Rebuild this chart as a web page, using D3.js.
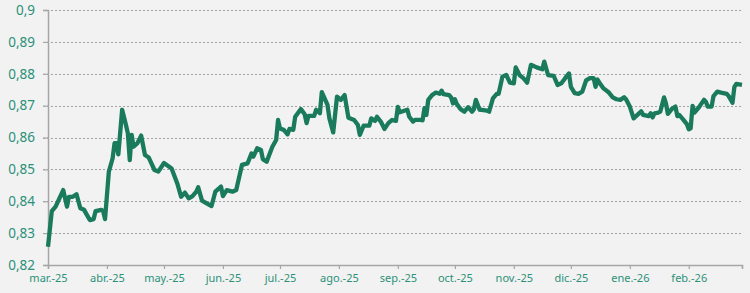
<!DOCTYPE html>
<html><head><meta charset="utf-8">
<script src="https://cdn.jsdelivr.net/npm/d3@7"></script>
<style>
html,body{margin:0;padding:0;background:#f2f2f2;}
svg{display:block;}
</style></head>
<body>
<svg id="chart" width="750" height="293"></svg>
<script>
const dates = [
"2025-03-01","2025-03-03","2025-03-05","2025-03-07","2025-03-09","2025-03-11","2025-03-12","2025-03-14","2025-03-16","2025-03-18",
"2025-03-20","2025-03-21","2025-03-23","2025-03-25","2025-03-26","2025-03-29","2025-03-30","2025-03-31","2025-04-02","2025-04-04",
"2025-04-05","2025-04-06","2025-04-07","2025-04-09","2025-04-11","2025-04-12","2025-04-13","2025-04-14","2025-04-15","2025-04-17",
"2025-04-19","2025-04-21","2025-04-23","2025-04-26","2025-04-28","2025-05-01","2025-05-05","2025-05-08","2025-05-10","2025-05-12",
"2025-05-14","2025-05-16","2025-05-18","2025-05-19","2025-05-21","2025-05-23","2025-05-26","2025-05-28","2025-05-31","2025-06-01",
"2025-06-03","2025-06-06","2025-06-08","2025-06-11","2025-06-14","2025-06-16","2025-06-17","2025-06-19","2025-06-21","2025-06-22",
"2025-06-24","2025-06-27","2025-06-29","2025-06-30","2025-07-01","2025-07-03","2025-07-05","2025-07-06","2025-07-08","2025-07-09",
"2025-07-12","2025-07-14","2025-07-15","2025-07-16","2025-07-19","2025-07-20","2025-07-22","2025-07-23","2025-07-26","2025-07-27",
"2025-07-29","2025-07-31","2025-08-02","2025-08-04","2025-08-06","2025-08-09","2025-08-11","2025-08-12","2025-08-14","2025-08-16",
"2025-08-17","2025-08-18","2025-08-20","2025-08-21","2025-08-23","2025-08-25","2025-08-27","2025-08-29","2025-08-31","2025-09-01",
"2025-09-02","2025-09-04","2025-09-06","2025-09-07","2025-09-09","2025-09-10","2025-09-13","2025-09-14","2025-09-15","2025-09-16",
"2025-09-17","2025-09-19","2025-09-21","2025-09-23","2025-09-24","2025-09-25","2025-09-28","2025-09-29","2025-09-30","2025-10-01",
"2025-10-02","2025-10-04","2025-10-06","2025-10-08","2025-10-10","2025-10-11","2025-10-12","2025-10-14","2025-10-15","2025-10-18",
"2025-10-19","2025-10-21","2025-10-23","2025-10-24","2025-10-26","2025-10-28","2025-10-30","2025-11-01","2025-11-02","2025-11-04",
"2025-11-06","2025-11-08","2025-11-10","2025-11-13","2025-11-16","2025-11-17","2025-11-19","2025-11-22","2025-11-24","2025-11-26",
"2025-11-28","2025-11-30","2025-12-01","2025-12-03","2025-12-05","2025-12-07","2025-12-09","2025-12-11","2025-12-13","2025-12-14",
"2025-12-15","2025-12-16","2025-12-18","2025-12-21","2025-12-23","2025-12-25","2025-12-27","2025-12-29","2025-12-30","2026-01-01",
"2026-01-03","2026-01-05","2026-01-07","2026-01-08","2026-01-11","2026-01-12","2026-01-13","2026-01-14","2026-01-16","2026-01-17",
"2026-01-19","2026-01-20","2026-01-21","2026-01-23","2026-01-25","2026-01-26","2026-01-27","2026-01-29","2026-01-31","2026-02-01",
"2026-02-02","2026-02-03","2026-02-04","2026-02-06","2026-02-09","2026-02-10","2026-02-11","2026-02-13","2026-02-14","2026-02-16",
"2026-02-18","2026-02-21","2026-02-22","2026-02-24","2026-02-25","2026-02-26","2026-03-01"
];
const values = [
0.8257,0.8369,0.8383,0.8409,0.8435,0.8383,0.8414,0.8414,0.8422,0.8378,
0.8373,0.8362,0.8341,0.8344,0.8369,0.8373,0.8369,0.8344,0.8493,0.8535,
0.8582,0.8582,0.8547,0.8687,0.8639,0.8613,0.8529,0.8608,0.8571,0.8582,
0.8606,0.8545,0.8537,0.8498,0.8493,0.8520,0.8503,0.8456,0.8414,0.8427,
0.8409,0.8416,0.8430,0.8444,0.8402,0.8395,0.8385,0.8430,0.8446,0.8416,
0.8435,0.8430,0.8435,0.8514,0.8519,0.8550,0.8540,0.8566,0.8561,0.8532,
0.8524,0.8571,0.8592,0.8655,0.8628,0.8624,0.8610,0.8627,0.8624,0.8665,
0.8689,0.8673,0.8645,0.8668,0.8668,0.8687,0.8676,0.8742,0.8702,0.8660,
0.8616,0.8728,0.8718,0.8733,0.8662,0.8655,0.8639,0.8608,0.8637,0.8637,
0.8637,0.8660,0.8652,0.8665,0.8650,0.8627,0.8645,0.8655,0.8652,0.8696,
0.8679,0.8683,0.8687,0.8665,0.8650,0.8655,0.8655,0.8654,0.8692,0.8671,
0.8718,0.8733,0.8741,0.8737,0.8747,0.8736,0.8733,0.8726,0.8707,0.8720,
0.8705,0.8689,0.8681,0.8695,0.8681,0.8689,0.8718,0.8687,0.8687,0.8684,
0.8681,0.8723,0.8737,0.8737,0.8791,0.8796,0.8772,0.8770,0.8820,0.8796,
0.8786,0.8772,0.8828,0.8820,0.8814,0.8838,0.8796,0.8793,0.8765,0.8770,
0.8786,0.8801,0.8759,0.8739,0.8737,0.8744,0.8779,0.8786,0.8786,0.8759,
0.8782,0.8772,0.8755,0.8741,0.8726,0.8720,0.8718,0.8726,0.8720,0.8697,
0.8660,0.8671,0.8682,0.8671,0.8667,0.8676,0.8663,0.8676,0.8678,0.8681,
0.8726,0.8707,0.8674,0.8689,0.8697,0.8667,0.8671,0.8657,0.8642,0.8626,
0.8629,0.8699,0.8678,0.8692,0.8718,0.8712,0.8697,0.8697,0.8730,0.8744,
0.8741,0.8737,0.8730,0.8709,0.8759,0.8768,0.8765
];
const yTicks = [0.82,0.83,0.84,0.85,0.86,0.87,0.88,0.89,0.9];
const yTickLabels = ["0,82","0,83","0,84","0,85","0,86","0,87","0,88","0,89","0,9"];
const xTickLabels = ["mar.-25","abr.-25","may.-25","jun.-25","jul.-25","ago.-25","sep.-25","oct.-25","nov.-25","dic.-25","ene.-26","feb.-26",""];

const parse = d3.utcParse("%Y-%m-%d");
const data = dates.map((d,i)=>({date:parse(d), value:values[i]}));

const svg = d3.select("#chart");
const mLeft = 48, mRight = 742, mTop = 10, mBottom = 265;
const x = d3.scaleUtc().domain([parse("2025-03-01"), parse("2026-03-01")]).range([mLeft, mRight]);
const y = d3.scaleLinear().domain([0.82, 0.9]).range([mBottom, mTop]);

const labelColor = "#2b9178";
const axisColor = "#a6a6a6";

// gridlines
svg.append("g").selectAll("line").data(yTicks.filter(t=>t>0.82)).join("line")
  .attr("x1", mLeft-5).attr("x2", mRight)
  .attr("y1", d=>Math.round(y(d))+0.5).attr("y2", d=>Math.round(y(d))+0.5)
  .attr("stroke", "#a3a3a3").attr("stroke-width", 1.2).attr("stroke-dasharray", "2,2");

// y axis
const yAxis = d3.axisLeft(y).tickValues(yTicks).tickFormat((d,i)=>yTickLabels[i]).tickSize(5).tickPadding(8);
const gy = svg.append("g").attr("transform", `translate(${mLeft},0)`).call(yAxis);
gy.select(".domain").attr("stroke", axisColor).attr("stroke-width", 1.5);
gy.selectAll(".tick line").attr("stroke", axisColor).attr("stroke-width", 1.2);
gy.selectAll(".tick text").attr("fill", labelColor).attr("font-family", "'Noto Sans', sans-serif").attr("font-size", "13.5px");

// x axis
const xAxis = d3.axisBottom(x).ticks(d3.utcMonth.every(1)).tickFormat((d,i)=>xTickLabels[i]).tickSize(4).tickPadding(5);
const gx = svg.append("g").attr("transform", `translate(0,${mBottom})`).call(xAxis);
gx.select(".domain").attr("stroke", axisColor).attr("stroke-width", 1.5);
gx.selectAll(".tick line").attr("stroke", axisColor).attr("stroke-width", 1.2);
gx.selectAll(".tick text").attr("fill", labelColor).attr("font-family", "'Noto Sans', sans-serif").attr("font-size", "11px");

// line
const line = d3.line().x(d=>x(d.date)).y(d=>y(d.value)).curve(d3.curveLinear);
svg.append("path").datum(data).attr("d", line)
  .attr("fill", "none").attr("stroke", "#197a5c").attr("stroke-width", 4.3)
  .attr("stroke-linejoin", "round").attr("stroke-linecap", "butt");
</script>
</body></html>
